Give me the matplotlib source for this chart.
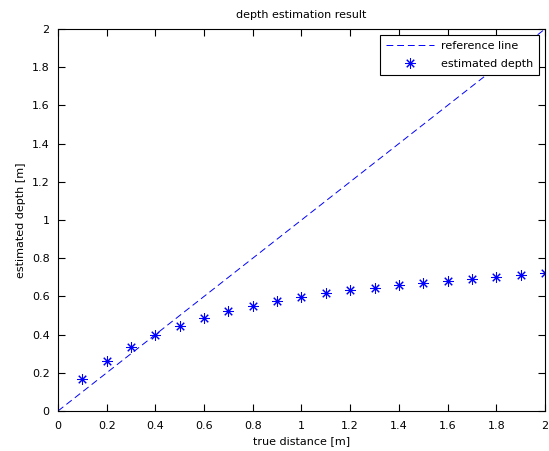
import matplotlib
matplotlib.use('Agg')
import matplotlib.pyplot as plt
import numpy as np

# true distances and estimated depths
true_dist = [0.1, 0.2, 0.3, 0.4, 0.5, 0.6, 0.7, 0.8, 0.9, 1.0,
             1.1, 1.2, 1.3, 1.4, 1.5, 1.6, 1.7, 1.8, 1.9, 2.0]
est_depth = [0.166, 0.26, 0.337, 0.396, 0.445, 0.489, 0.524, 0.548, 0.578, 0.598,
             0.617, 0.631, 0.645, 0.661, 0.669, 0.680, 0.690, 0.700, 0.712, 0.721]
ref_x = [0, 2]
ticks = np.arange(0, 2.01, 0.2)
tick_labels = ['0', '0.2', '0.4', '0.6', '0.8', '1', '1.2', '1.4', '1.6', '1.8', '2']

plt.rcParams['font.family'] = 'DejaVu Sans'
fig = plt.figure(figsize=(5.49, 4.51), dpi=100)
ax = fig.add_axes([0.1056, 0.0887, 0.8871, 0.847])

ax.plot(ref_x, ref_x, color='blue', linestyle=(0, (7, 4)), linewidth=0.7, label='reference line')
# matlab style asterisk marker
ax.plot(true_dist, est_depth, linestyle='none', marker=(8, 2, 0), color='blue', markersize=7.5,
        markeredgewidth=0.75, label='estimated depth')

ax.set_xlim(0, 2)
ax.set_ylim(0, 2)
ax.set_xticks(ticks)
ax.set_yticks(ticks)
ax.set_xticklabels(tick_labels)
ax.set_yticklabels(tick_labels)
ax.tick_params(direction='in', top=True, right=True, labelsize=8, length=5, width=0.8)
ax.tick_params(axis='x', pad=7)
ax.tick_params(axis='y', pad=6)
for s in ax.spines.values():
    s.set_linewidth(0.8)

ax.set_title('depth estimation result', fontsize=8, pad=8)
ax.set_xlabel('true distance [m]', fontsize=8, labelpad=4)
ax.set_ylabel('estimated depth [m]', fontsize=8, labelpad=4)

leg = ax.legend(loc='upper right', fontsize=8, fancybox=False, framealpha=1,
                edgecolor='black', handlelength=4.4, borderaxespad=0.55,
                labelspacing=0.75, borderpad=0.5, handletextpad=0.6)
leg.get_frame().set_linewidth(0.8)

fig.savefig('out.png', dpi=100)
